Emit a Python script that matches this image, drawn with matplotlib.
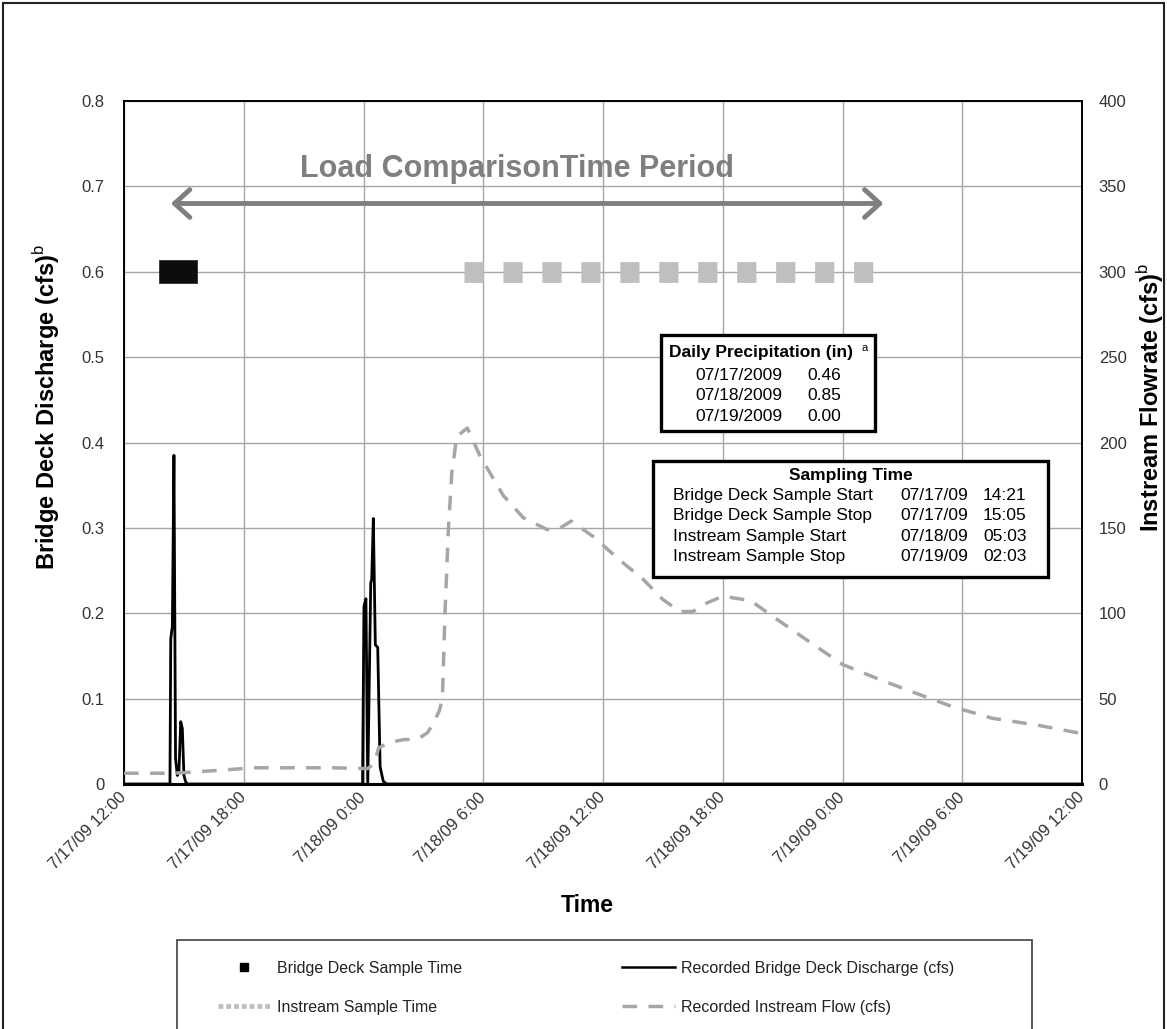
import matplotlib
matplotlib.use('Agg')
import matplotlib.dates as mdates
import matplotlib.pyplot as plt
import pandas as pd
from matplotlib.lines import Line2D
from matplotlib.patches import Rectangle

plt.rcParams['font.family'] = ['Liberation Sans', 'DejaVu Sans']
plt.rcParams['mathtext.fontset'] = 'custom'
plt.rcParams['mathtext.rm'] = 'Liberation Sans'

start = pd.Timestamp('2009-07-17 12:00')

# recorded bridge deck discharge (cfs), hours after 7/17/09 12:00
deck_hours = [0.0, 2.30, 2.34, 2.42, 2.50, 2.58, 2.67, 2.75, 2.84, 2.92, 3.00, 3.08, 3.17,
              11.95, 12.02, 12.12, 12.21, 12.36, 12.41, 12.49, 12.59, 12.71, 12.83, 12.99, 13.16, 48.0]
deck_cfs = [0.0, 0.0, 0.17, 0.185, 0.385, 0.03, 0.01, 0.015, 0.073, 0.065, 0.01, 0.003, 0.0,
            0.0, 0.208, 0.217, 0.0, 0.235, 0.24, 0.311, 0.163, 0.16, 0.02, 0.003, 0.0, 0.0]

# recorded instream flow (cfs), hours after 7/17/09 12:00
flow_hours = [0.0, 2.5, 4.5, 6.5, 10.5, 12.2, 12.55, 12.75, 13.2, 14.0, 14.7, 15.2, 15.5, 15.8,
              15.95, 16.08, 16.25, 16.42, 16.67, 17.2, 17.84, 19.0, 20.0, 21.2, 21.8, 22.4, 23.5,
              24.85, 26.0, 27.0, 27.86, 28.5, 29.2, 30.0, 31.4, 32.4, 34.2, 36.0, 37.9, 39.9,
              41.5, 43.5, 45.7, 48.0]
flow_cfs = [6.3, 6.3, 7.8, 9.5, 9.5, 9.0, 12.0, 21.0, 24.0, 26.0, 26.2, 30.0, 35.6, 43.0,
            50.0, 100.0, 149.0, 182.0, 203.6, 208.5, 192.0, 169.0, 156.0, 149.0, 149.5, 154.0, 145.0,
            131.0, 120.0, 108.0, 101.0, 101.0, 106.0, 110.0, 107.4, 99.0, 84.4, 70.0, 61.0, 52.2,
            45.3, 38.5, 34.6, 29.5]

deck_sample = ['2009-07-17 14:21', '2009-07-17 15:05']
instream_sample = ['2009-07-18 05:03', '2009-07-19 02:03']
sample_level = 0.6

tick_labels = ['7/17/09 12:00', '7/17/09 18:00', '7/18/09 0:00', '7/18/09 6:00', '7/18/09 12:00',
               '7/18/09 18:00', '7/19/09 0:00', '7/19/09 6:00', '7/19/09 12:00']

precip_dates = ['07/17/2009', '07/18/2009', '07/19/2009']
precip_in = ['0.46', '0.85', '0.00']
sampling_events = ['Bridge Deck Sample Start', 'Bridge Deck Sample Stop',
                   'Instream Sample Start', 'Instream Sample Stop']
sampling_dates = ['07/17/09', '07/17/09', '07/18/09', '07/19/09']
sampling_times = ['14:21', '15:05', '05:03', '02:03']

deck_t = start + pd.to_timedelta(deck_hours, unit='h')
flow_t = start + pd.to_timedelta(flow_hours, unit='h')
deck_s = pd.to_datetime(deck_sample)
inst_s = pd.to_datetime(instream_sample)

grey_line = '#a6a6a6'
grey_text = '#7f7f7f'
tick_col = '#333333'

fig = plt.figure(figsize=(11.67, 10.29), dpi=100)
ax = fig.add_axes([0.1063, 0.2381, 0.8209, 0.6637])
ax2 = ax.twinx()

ax.plot(deck_t, deck_cfs, color='black', lw=2.0, zorder=3)
ax.plot(deck_s, [sample_level] * 2, color='#0d0d0d', lw=17, solid_capstyle='projecting', zorder=3)
ax.plot(inst_s, [sample_level] * 2, color='#bfbfbf', lw=15, dashes=(0.92, 0.95),
        dash_capstyle='butt', zorder=3)
ax2.plot(flow_t, flow_cfs, color=grey_line, lw=2.5, dashes=(4.2, 3.3), zorder=3)

ax.set_xlim(start, start + pd.Timedelta(hours=48))
ax.set_ylim(0, 0.8)
ax2.set_ylim(0, 400)
ax.set_yticks([i / 10 for i in range(9)])
ax.set_yticklabels(['0'] + [f'{i / 10:.1f}' for i in range(1, 9)])
ax2.set_yticks(range(0, 401, 50))
ax.set_xticks(pd.date_range(start, periods=9, freq='6h'))
ax.set_xticklabels(tick_labels, rotation=45, ha='right', va='center', rotation_mode='anchor')
ax.grid(True, color=grey_line, lw=1)
ax.set_axisbelow(True)
for a in (ax, ax2):
    a.tick_params(length=0, labelsize=12, labelcolor=tick_col)
    for s in a.spines.values():
        s.set_linewidth(1.2)
    a.spines['bottom'].set_linewidth(2.2)
ax.tick_params(axis='y', pad=14)
ax.tick_params(axis='x', pad=8)
ax2.tick_params(axis='y', pad=12)

# load comparison arrow
x0, x1 = mdates.date2num(deck_s[0]), mdates.date2num(inst_s[1])
ax2.annotate('', xy=(x0, 340), xytext=(x1, 340),
             arrowprops=dict(arrowstyle='<->,head_length=1.1,head_width=1.0', lw=3.5,
                             color=grey_text, shrinkA=0, shrinkB=0))
ax2.text(0.4102, 0.900, 'Load ComparisonTime Period', transform=ax2.transAxes, ha='center',
         va='center', fontsize=22, fontweight='bold', color=grey_text)

# daily precipitation box
ax2.add_patch(Rectangle((0.5605, 0.5168), 0.2234, 0.1406, transform=ax2.transAxes,
                        facecolor='white', edgecolor='black', lw=2.4, zorder=5))
ax2.text(0.665, 0.6325, 'Daily Precipitation (in)', transform=ax2.transAxes, ha='center',
         va='center', fontsize=12.5, fontweight='bold', zorder=6)
ax2.text(0.7735, 0.638, 'a', transform=ax2.transAxes, ha='center', va='center', fontsize=8, zorder=6)
for i, (d, v) in enumerate(zip(precip_dates, precip_in)):
    y = 0.5988 - i * 0.0305
    ax2.text(0.596, y, d, transform=ax2.transAxes, va='center', fontsize=12.5, zorder=6)
    ax2.text(0.713, y, v, transform=ax2.transAxes, va='center', fontsize=12.5, zorder=6)

# sampling time box
ax2.add_patch(Rectangle((0.5522, 0.3031), 0.4123, 0.1698, transform=ax2.transAxes,
                        facecolor='white', edgecolor='black', lw=2.4, zorder=5))
ax2.text(0.7589, 0.4524, 'Sampling Time', transform=ax2.transAxes, ha='center', va='center',
         fontsize=12.5, fontweight='bold', zorder=6)
for i, (e, d, t) in enumerate(zip(sampling_events, sampling_dates, sampling_times)):
    y = 0.4231 - i * 0.0302
    ax2.text(0.5728, y, e, transform=ax2.transAxes, va='center', fontsize=12.5, zorder=6)
    ax2.text(0.810, y, d, transform=ax2.transAxes, va='center', fontsize=12.5, zorder=6)
    ax2.text(0.8967, y, t, transform=ax2.transAxes, va='center', fontsize=12.5, zorder=6)

# axis titles
fig.text(0.0403, 0.6045, r'Bridge Deck Discharge (cfs)$^{\mathrm{b}}$', rotation=90, ha='center',
         va='center', fontsize=17, fontweight='bold')
fig.text(0.9863, 0.6142, r'Instream Flowrate (cfs)$^{\mathrm{b}}$', rotation=90, ha='center',
         va='center', fontsize=17, fontweight='bold')
fig.text(0.503, 0.1205, 'Time', ha='center', va='center', fontsize=16.5, fontweight='bold')

# legend
fig.patches.append(Rectangle((0.1517, -0.1), 0.7326, 0.1865, transform=fig.transFigure,
                             fill=False, edgecolor='#404040', lw=1.2))
col1 = [Line2D([], [], color='black', marker='s', ms=6, ls='none'),
        Line2D([], [], color='#bfbfbf', lw=3.5, dashes=(1.0, 0.6))]
col2 = [Line2D([], [], color='black', lw=1.8),
        Line2D([], [], color=grey_line, lw=2.5, dashes=(4.2, 3.3))]
leg_kw = dict(loc='upper left', frameon=False, fontsize=11.5, handlelength=3.3, handletextpad=0.42,
              labelspacing=1.5, borderpad=0, borderaxespad=0, labelcolor='#222222')
fig.legend(col1, ['Bridge Deck Sample Time', 'Instream Sample Time'],
           bbox_to_anchor=(0.1868, 0.066), **leg_kw)
fig.legend(col2, ['Recorded Bridge Deck Discharge (cfs)', 'Recorded Instream Flow (cfs)'],
           bbox_to_anchor=(0.533, 0.066), **leg_kw)

fig.patches.append(Rectangle((0.0025, -0.1), 0.995, 1.0975, transform=fig.transFigure,
                             fill=False, edgecolor='#222222', lw=1.5))

fig.savefig('out.png', dpi=100)
